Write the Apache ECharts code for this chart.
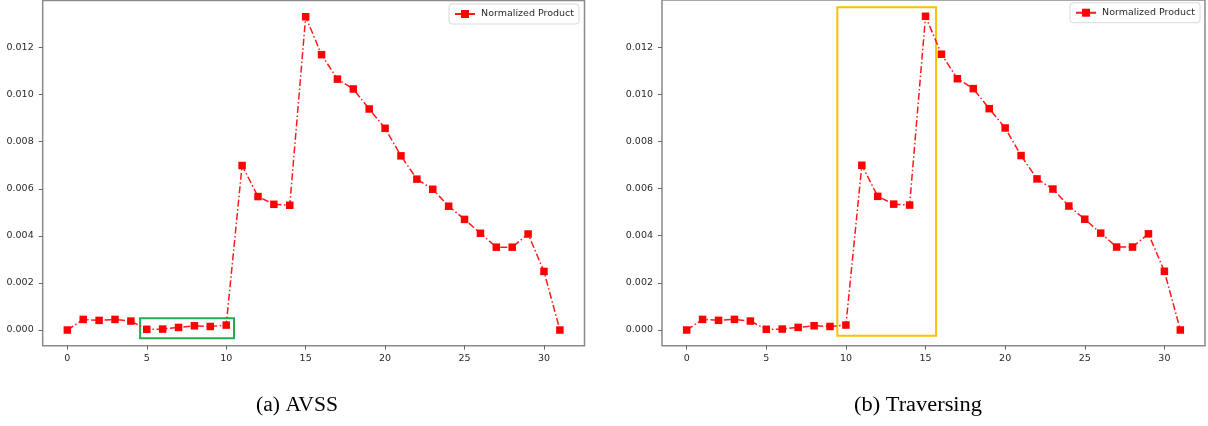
<!DOCTYPE html>
<html>
<head>
<meta charset="utf-8">
<script src="https://cdn.jsdelivr.net/npm/echarts@6/dist/echarts.min.js"></script>
<style>
html,body{margin:0;padding:0;background:#fff;}
#c{width:1208px;height:426px;}
</style>
</head>
<body>
<div id="c"></div>
<script>
// ---- data ----
const steps = [0,1,2,3,4,5,6,7,8,9,10,11,12,13,14,15,16,17,18,19,20,21,22,23,24,25,26,27,28,29,30,31];
const normalizedProduct = [0.00000,0.00045,0.00041,0.00045,0.00038,0.00003,0.00004,0.00011,0.00018,0.00015,0.00021,
  0.00699,0.00567,0.00534,0.00530,0.01331,0.01170,0.01066,0.01024,0.00939,0.00857,0.00740,0.00641,0.00598,0.00526,
  0.00470,0.00411,0.00352,0.00352,0.00408,0.00249,0.00000];
const xTicks = [0,5,10,15,20,25,30];
const yTicks = [0,0.002,0.004,0.006,0.008,0.010,0.012];
const xRange = [-1.55, 32.55];
const yRange = [-0.000666, 0.014];
const seriesName = 'Normalized Product';
const captions = ['(a) AVSS', '(b) Traversing'];
// highlight boxes: [[x0, y0], [x1, y1]] in data units
const boxAVSS = [[4.58, 0.00050], [10.49, -0.00035]];
const boxTraversing = [[9.46, 0.01369], [15.66, -0.00024]];

const pts = steps.map((s, i) => [s, normalizedProduct[i]]);
const font = 'DejaVu Sans';

function xAxis(gi) {
  return {
    type: 'value', gridIndex: gi, min: xRange[0], max: xRange[1], position: 'bottom',
    axisLine: {show: false, onZero: false},
    splitLine: {show: false},
    axisTick: {show: true, customValues: xTicks, length: 4, lineStyle: {color: '#666', width: 1}},
    axisLabel: {customValues: xTicks, margin: 8, fontSize: 9.5, fontFamily: font, color: '#2a2a2a', verticalAlign: 'top'}
  };
}
function yAxis(gi) {
  return {
    type: 'value', gridIndex: gi, min: yRange[0], max: yRange[1], position: 'left',
    axisLine: {show: false, onZero: false},
    splitLine: {show: false},
    axisTick: {show: true, customValues: yTicks, length: 4, lineStyle: {color: '#666', width: 1}},
    axisLabel: {customValues: yTicks, margin: 9, fontSize: 9.5, fontFamily: font, color: '#2a2a2a',
      formatter: v => v.toFixed(3)}
  };
}
function series(gi, box, color) {
  return {
    name: seriesName, type: 'line', xAxisIndex: gi, yAxisIndex: gi, data: pts,
    symbol: 'rect', symbolSize: 7.5, color: '#ff0000',
    lineStyle: {color: '#ff1a1a', width: 1.5, type: [7, 2.5, 1.5, 2.5]},
    itemStyle: {color: '#ff0000'},
    animation: false,
    markArea: {
      silent: true,
      itemStyle: {color: 'rgba(0,0,0,0)', borderColor: color, borderWidth: 2},
      data: [[{coord: box[0]}, {coord: box[1]}]]
    }
  };
}
function legend(right, top) {
  return {
    data: [seriesName], right: right, top: top,
    orient: 'horizontal',
    padding: [5, 5], itemWidth: 20, itemHeight: 10, itemGap: 6,
    borderColor: '#d9d9d9', borderWidth: 1, borderRadius: 3,
    backgroundColor: '#fff',
    textStyle: {fontSize: 9.5, fontFamily: font, color: '#2a2a2a', padding: [0, 0, 0, 1]},
    selectedMode: false
  };
}

const chart = echarts.init(document.getElementById('c'), null, {renderer: 'canvas'});
chart.setOption({
  animation: false,
  backgroundColor: '#fff',
  grid: [
    {left: 42.7, top: 0.5, width: 541.8, height: 345.2, show: true, borderColor: '#8a8a8a', borderWidth: 1.5, backgroundColor: 'transparent'},
    {left: 662, top: -1.5, width: 543, height: 347.2, show: true, borderColor: '#8a8a8a', borderWidth: 1.5, backgroundColor: 'transparent'}
  ],
  xAxis: [xAxis(0), xAxis(1)],
  yAxis: [yAxis(0), yAxis(1)],
  legend: [legend(629, 4), legend(8, 2.7)],
  series: [series(0, boxAVSS, '#1fae50'), series(1, boxTraversing, '#ffc000')],
  graphic: [
    {type: 'text', x: 297, y: 406, scaleX: 1.08, originX: 0, originY: 0,
     style: {text: captions[0], font: '20px "Liberation Serif"', fill: '#000', align: 'center', verticalAlign: 'middle'}},
    {type: 'text', x: 918, y: 406, scaleX: 1.12, originX: 0, originY: 0,
     style: {text: captions[1], font: '20px "Liberation Serif"', fill: '#000', align: 'center', verticalAlign: 'middle'}}
  ]
});
</script>
</body>
</html>
